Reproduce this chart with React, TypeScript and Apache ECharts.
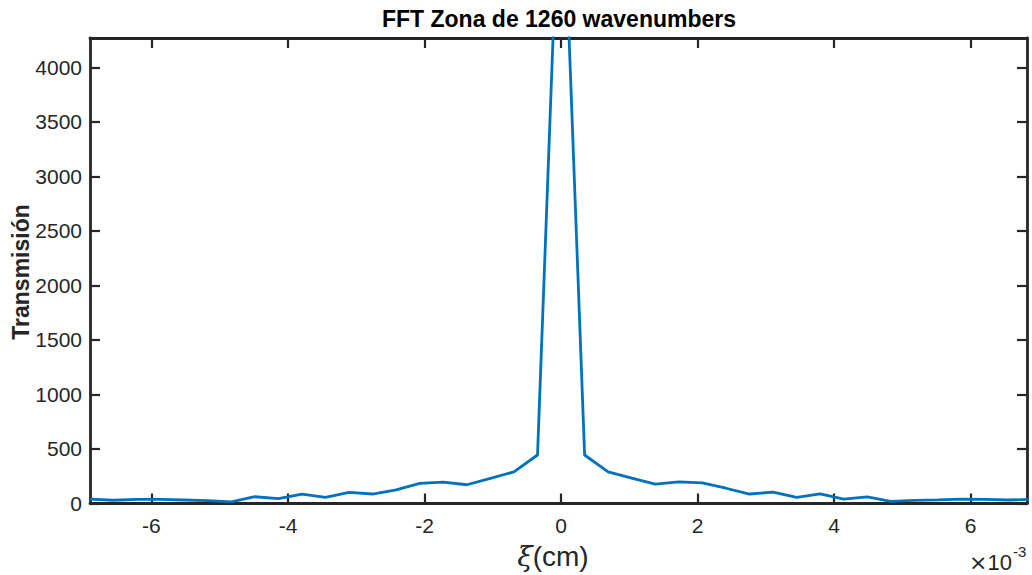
import React, { useEffect, useRef } from "react";
import * as echarts from "echarts";

// x positions (units of 1e-3 cm)
const xValues = [
  -6.9, -6.555, -6.21, -5.865, -5.52, -5.175, -4.83, -4.485, -4.14, -3.795,
  -3.45, -3.105, -2.76, -2.415, -2.07, -1.725, -1.38, -1.035, -0.69, -0.345,
  0,
  0.345, 0.69, 1.035, 1.38, 1.725, 2.07, 2.415, 2.76, 3.105, 3.45,
  3.795, 4.14, 4.485, 4.83, 5.175, 5.52, 5.865, 6.21, 6.555, 6.9,
];
const transmission = [
  40, 30, 38, 38, 32, 26, 14, 62, 44, 87,
  57, 103, 87, 125, 185, 197, 172, 231, 291, 445,
  6250,
  445, 291, 232, 177, 199, 190, 140, 87, 105, 57,
  89, 41, 61, 20, 29, 34, 41, 38, 32, 38,
];
const xTicks = [-6, -4, -2, 0, 2, 4, 6];
const yTicks = [0, 500, 1000, 1500, 2000, 2500, 3000, 3500, 4000];

const X_MIN = -6.9;
const X_MAX = 6.825;
const Y_MIN = 0;
const Y_MAX = 4270;

export default function App() {
  const ref = useRef<HTMLDivElement>(null);
  useEffect(() => {
    if (!ref.current) return;
    const chart = echarts.init(ref.current, null, { renderer: "svg" });
    const axisColor = "#262626";
    const font = "'Liberation Sans', Arial, Helvetica, sans-serif";
    const data = xValues.map((x, i) => [x, transmission[i]]);
    const baseX = {
      type: "value" as const,
      min: X_MIN,
      max: X_MAX,
      splitLine: { show: false },
      axisLine: { show: true, onZero: false, lineStyle: { color: axisColor, width: 2.8 } },
      axisTick: { show: true, inside: true, length: 10, customValues: xTicks, lineStyle: { color: axisColor, width: 2.2 } },
    };
    const baseY = {
      type: "value" as const,
      min: Y_MIN,
      max: Y_MAX,
      splitLine: { show: false },
      axisLine: { show: true, onZero: false, lineStyle: { color: axisColor, width: 2.8 } },
      axisTick: { show: true, inside: true, length: 10, customValues: yTicks, lineStyle: { color: axisColor, width: 2.2 } },
    };
    chart.setOption({
      animation: false,
      backgroundColor: "#ffffff",
      grid: { left: 90, right: 5, top: 38, bottom: 71.5 },
      xAxis: [
        {
          ...baseX,
          position: "bottom",
          axisLabel: {
            show: true,
            customValues: xTicks,
            margin: 11,
            fontSize: 21,
            fontFamily: font,
            color: axisColor,
            formatter: (v: number) => String(v),
          },
        },
        { ...baseX, position: "top", axisLabel: { show: false } },
      ],
      yAxis: [
        {
          ...baseY,
          position: "left",
          axisLabel: {
            show: true,
            customValues: yTicks,
            margin: 8,
            fontSize: 21,
            fontFamily: font,
            color: axisColor,
            formatter: (v: number) => String(v),
          },
        },
        { ...baseY, position: "right", axisLabel: { show: false } },
      ],
      series: [
        {
          type: "line",
          data,
          xAxisIndex: 0,
          yAxisIndex: 0,
          showSymbol: false,
          clip: true,
          lineStyle: { color: "#0072BD", width: 2.8 },
        },
      ],
      graphic: [
        {
          type: "text",
          x: 559,
          y: 19,
          style: {
            text: "FFT Zona de 1260 wavenumbers",
            fontSize: 23,
            fontWeight: "bold",
            fontFamily: font,
            fill: "#000000",
            align: "center",
            verticalAlign: "middle",
          },
        },
        {
          type: "text",
          x: 21,
          y: 272,
          rotation: Math.PI / 2,
          style: {
            text: "Transmisión",
            fontSize: 23,
            fontWeight: "bold",
            fontFamily: font,
            fill: axisColor,
            align: "center",
            verticalAlign: "middle",
          },
        },
        {
          type: "text",
          x: 553,
          y: 556,
          style: {
            text: "{i|ξ}(cm)",
            fontSize: 28,
            fontFamily: font,
            fill: axisColor,
            align: "center",
            verticalAlign: "middle",
            rich: {
              i: { fontSize: 28, fontStyle: "italic", fontFamily: "'DejaVu Serif', serif", fill: axisColor },
            },
          },
        },
        {
          type: "text",
          x: 1012,
          y: 562,
          style: {
            text: "{m|×}10",
            fontSize: 22,
            fontFamily: font,
            fill: axisColor,
            align: "right",
            verticalAlign: "middle",
            rich: {
              m: { fontSize: 22, fontFamily: "'DejaVu Sans', sans-serif", fill: axisColor },
            },
          },
        },
        {
          type: "text",
          x: 1013,
          y: 551,
          style: {
            text: "-3",
            fontSize: 15,
            fontFamily: font,
            fill: axisColor,
            align: "left",
            verticalAlign: "middle",
          },
        },
      ],
    });
    return () => chart.dispose();
  }, []);
  return (
    <div
      ref={ref}
      style={{ position: "fixed", left: 0, top: 0, width: 1032, height: 575 }}
    />
  );
}
